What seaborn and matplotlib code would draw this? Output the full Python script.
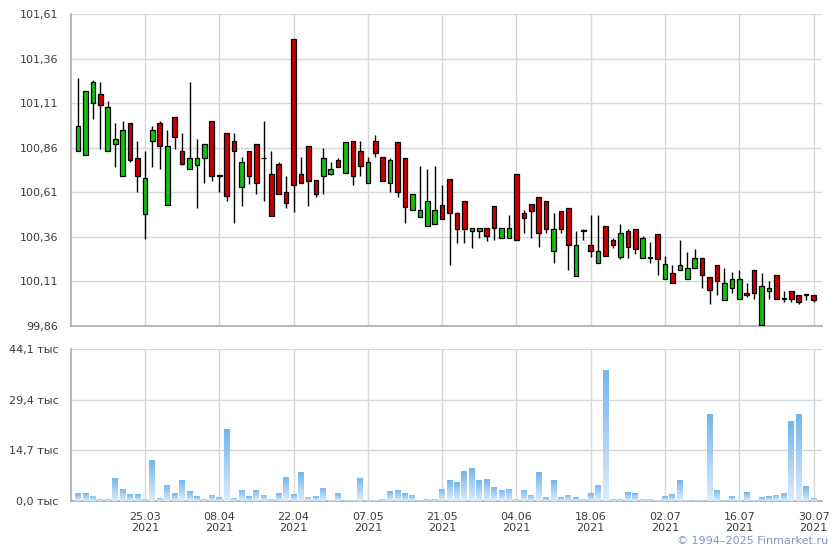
import numpy as np
import matplotlib
matplotlib.use("Agg")
import matplotlib.pyplot as plt
import seaborn as sns
from matplotlib.colors import LinearSegmentedColormap

# Котирування (OHLC) по торгових днях
opens = [100.84, 100.82, 101.11, 101.16, 100.84, 100.88, 100.70, 101.00, 100.80, 100.49,
         100.90, 101.00, 100.54, 101.03, 100.84, 100.74, 100.765, 100.80, 101.01, 100.705,
         100.94, 100.895, 100.64, 100.84, 100.88, 100.805, 100.71, 100.77, 100.61, 101.47,
         100.71, 100.87, 100.68, 100.70, 100.715, 100.79, 100.72, 100.895, 100.84, 100.66,
         100.895, 100.806, 100.66, 100.89, 100.80, 100.51, 100.47, 100.42, 100.43, 100.54,
         100.685, 100.495, 100.56, 100.395, 100.395, 100.407, 100.535, 100.356, 100.356, 100.715,
         100.495, 100.545, 100.585, 100.56, 100.28, 100.505, 100.52, 100.14, 100.395, 100.315,
         100.215, 100.42, 100.345, 100.245, 100.395, 100.405, 100.24, 100.24, 100.375, 100.125,
         100.155, 100.175, 100.125, 100.185, 100.24, 100.135, 100.20, 100.005, 100.075, 100.013,
         100.046, 100.175, 99.865, 100.058, 100.148, 100.015, 100.058, 100.035, 100.035, 100.035]
highs = [101.25, 101.18, 101.24, 101.23, 101.12, 101.00, 101.01, 101.00, 100.90, 100.84,
         100.98, 101.01, 100.96, 101.03, 100.94, 101.23, 100.91, 100.88, 101.01, 100.705,
         100.94, 100.945, 100.81, 100.84, 100.88, 101.01, 100.84, 100.78, 100.70, 101.47,
         100.81, 100.87, 100.68, 100.86, 100.78, 100.80, 100.89, 100.895, 100.895, 100.81,
         100.93, 100.806, 100.80, 100.89, 100.80, 100.60, 100.76, 100.74, 100.76, 100.65,
         100.685, 100.50, 100.56, 100.407, 100.407, 100.407, 100.535, 100.407, 100.485, 100.715,
         100.51, 100.545, 100.585, 100.56, 100.495, 100.505, 100.52, 100.395, 100.405, 100.485,
         100.485, 100.42, 100.356, 100.43, 100.405, 100.405, 100.365, 100.33, 100.375, 100.255,
         100.20, 100.345, 100.275, 100.29, 100.24, 100.135, 100.20, 100.185, 100.165, 100.175,
         100.10, 100.175, 100.155, 100.115, 100.148, 100.058, 100.058, 100.035, 100.035, 100.035]
lows = [100.84, 100.82, 101.02, 100.85, 100.84, 100.75, 100.70, 100.78, 100.61, 100.35,
        100.75, 100.74, 100.54, 100.85, 100.765, 100.74, 100.52, 100.66, 100.675, 100.61,
        100.56, 100.44, 100.535, 100.655, 100.60, 100.56, 100.475, 100.60, 100.52, 100.50,
        100.66, 100.535, 100.585, 100.60, 100.705, 100.75, 100.72, 100.65, 100.70, 100.66,
        100.81, 100.675, 100.61, 100.585, 100.435, 100.51, 100.47, 100.42, 100.43, 100.46,
        100.20, 100.325, 100.325, 100.295, 100.355, 100.335, 100.345, 100.356, 100.356, 100.345,
        100.38, 100.355, 100.305, 100.38, 100.215, 100.38, 100.175, 100.14, 100.345, 100.245,
        100.215, 100.255, 100.295, 100.235, 100.24, 100.265, 100.24, 100.215, 100.145, 100.125,
        100.10, 100.175, 100.125, 100.185, 100.075, 99.985, 100.035, 100.005, 100.045, 100.013,
        100.025, 100.013, 99.865, 100.013, 100.013, 99.996, 99.996, 99.985, 100.007, 99.996]
closes = [100.98, 101.18, 101.23, 101.10, 101.09, 100.91, 100.96, 100.79, 100.70, 100.69,
          100.96, 100.87, 100.87, 100.92, 100.77, 100.805, 100.80, 100.88, 100.70, 100.70,
          100.59, 100.84, 100.78, 100.70, 100.66, 100.80, 100.475, 100.60, 100.55, 100.65,
          100.66, 100.675, 100.60, 100.80, 100.74, 100.75, 100.89, 100.70, 100.755, 100.78,
          100.83, 100.675, 100.79, 100.61, 100.525, 100.60, 100.51, 100.56, 100.51, 100.46,
          100.495, 100.405, 100.405, 100.407, 100.407, 100.367, 100.407, 100.407, 100.407, 100.345,
          100.465, 100.505, 100.38, 100.405, 100.405, 100.405, 100.315, 100.315, 100.395, 100.28,
          100.278, 100.255, 100.317, 100.38, 100.305, 100.29, 100.355, 100.24, 100.235, 100.205,
          100.10, 100.203, 100.185, 100.24, 100.145, 100.06, 100.115, 100.10, 100.125, 100.125,
          100.035, 100.046, 100.085, 100.075, 100.013, 100.012, 100.013, 99.996, 100.035, 100.007]

# Обсяг торгів, тис.
volumes = [2.3, 2.3, 1.55, 0.7, 0.7, 6.8, 3.5, 2.0, 2.0, 0.7,
           11.9, 1.0, 4.65, 2.3, 6.1, 2.9, 1.45, 0.7, 1.75, 1.15,
           20.9, 1.0, 3.2, 1.45, 3.2, 1.85, 0.7, 2.3, 7.0, 2.0,
           8.4, 1.25, 1.45, 3.8, 0.3, 2.3, 0.3, 0.3, 6.7, 0.3,
           0.3, 0.6, 2.9, 3.2, 2.3, 1.75, 0.4, 0.6, 0.6, 3.5,
           6.1, 5.5, 8.7, 9.6, 6.1, 6.4, 4.1, 3.2, 3.5, 0.6,
           3.2, 1.75, 8.4, 1.15, 6.1, 1.15, 1.75, 1.15, 0.6, 2.3,
           4.65, 38.1, 0.6, 0.6, 2.6, 2.3, 0.6, 0.6, 0.3, 1.45,
           2.0, 6.1, 0.3, 0.3, 0.3, 25.3, 3.2, 0.3, 1.45, 0.3,
           2.6, 0.3, 1.15, 1.45, 1.75, 2.3, 23.2, 25.3, 4.35, 0.9]

tick_labels = ["25.03\n2021", "08.04\n2021", "22.04\n2021", "07.05\n2021", "21.05\n2021",
               "04.06\n2021", "18.06\n2021", "02.07\n2021", "16.07\n2021", "30.07\n2021"]
price_ticks = [99.86, 100.11, 100.36, 100.61, 100.86, 101.11, 101.36, 101.61]
volume_ticks = [0.0, 14.7, 29.4, 44.1]

sns.set_theme(style="white")
plt.rcParams['font.family'] = ['DejaVu Sans']

grid_c = '#d3d8dd'
axis_c = '#a9adb9'
text_c = '#3c3c3c'

fig = plt.figure(figsize=(8.4, 5.5), dpi=100)
ax1 = fig.add_axes([71 / 840, (550 - 326) / 550, 751 / 840, 312 / 550])
ax2 = fig.add_axes([71 / 840, (550 - 501) / 550, 751 / 840, 152 / 550])

x = np.arange(len(opens))
o = np.array(opens)
c = np.array(closes)
tick_pos = x[9::10]

# Свічки
colors = np.where(c > o, '#14c014', '#cc0000')
ax1.vlines(x, lows, highs, color='black', lw=1.0, zorder=2)
ax1.bar(x, np.maximum(np.abs(c - o), 0.005), bottom=np.minimum(o, c), width=0.62,
        color=colors, edgecolor='black', linewidth=0.9, zorder=3)

# Обсяги
sns.barplot(x=x, y=volumes, ax=ax2, native_scale=True, width=0.8, color='#a8d0f4',
            saturation=1, edgecolor='none', linewidth=0, zorder=2)
cmap = LinearSegmentedColormap.from_list('vol', ['#dcecfb', '#72b5ee'])
grad = np.linspace(0, 1, 64).reshape(-1, 1)
for p in list(ax2.patches):
    x0, y0, w, h = p.get_x(), p.get_y(), p.get_width(), p.get_height()
    if h <= 0:
        continue
    im = ax2.imshow(grad, extent=[x0, x0 + w, y0, y0 + h], origin='lower', cmap=cmap,
                    aspect='auto', zorder=3, interpolation='bilinear')
    im.set_clip_path(p)

for ax in (ax1, ax2):
    ax.set_xlim(-0.95, 100.13)
    ax.set_xticks(tick_pos)
    ax.grid(True, color=grid_c, lw=1.0)
    ax.set_axisbelow(True)
    for s in ('top', 'right'):
        ax.spines[s].set_visible(False)
    for s in ('left', 'bottom'):
        ax.spines[s].set_color(axis_c)
        ax.spines[s].set_linewidth(1.2)
    ax.tick_params(axis='both', direction='out', length=6, width=1, color=axis_c,
                   labelsize=8, labelcolor=text_c, pad=3)
    ax.set_xlabel('')
    ax.set_ylabel('')

ax1.set_ylim(99.86, 101.61)
ax1.set_yticks(price_ticks)
ax1.set_yticklabels([f"{v:.2f}".replace('.', ',') for v in price_ticks])
ax1.set_xticklabels([])

ax2.set_ylim(0, 44.1)
ax2.set_yticks(volume_ticks)
ax2.set_yticklabels([f"{v:.1f}".replace('.', ',') + " тыс" for v in volume_ticks])
ax2.set_xticklabels(tick_labels, linespacing=1.1)
ax2.tick_params(axis='x', pad=2)

fig.text(828 / 840, 4 / 550, "© 1994–2025 Finmarket.ru", ha='right', va='bottom',
         color='#7f93c8', fontsize=8)

plt.savefig("out.png", dpi=100)
plt.close()
